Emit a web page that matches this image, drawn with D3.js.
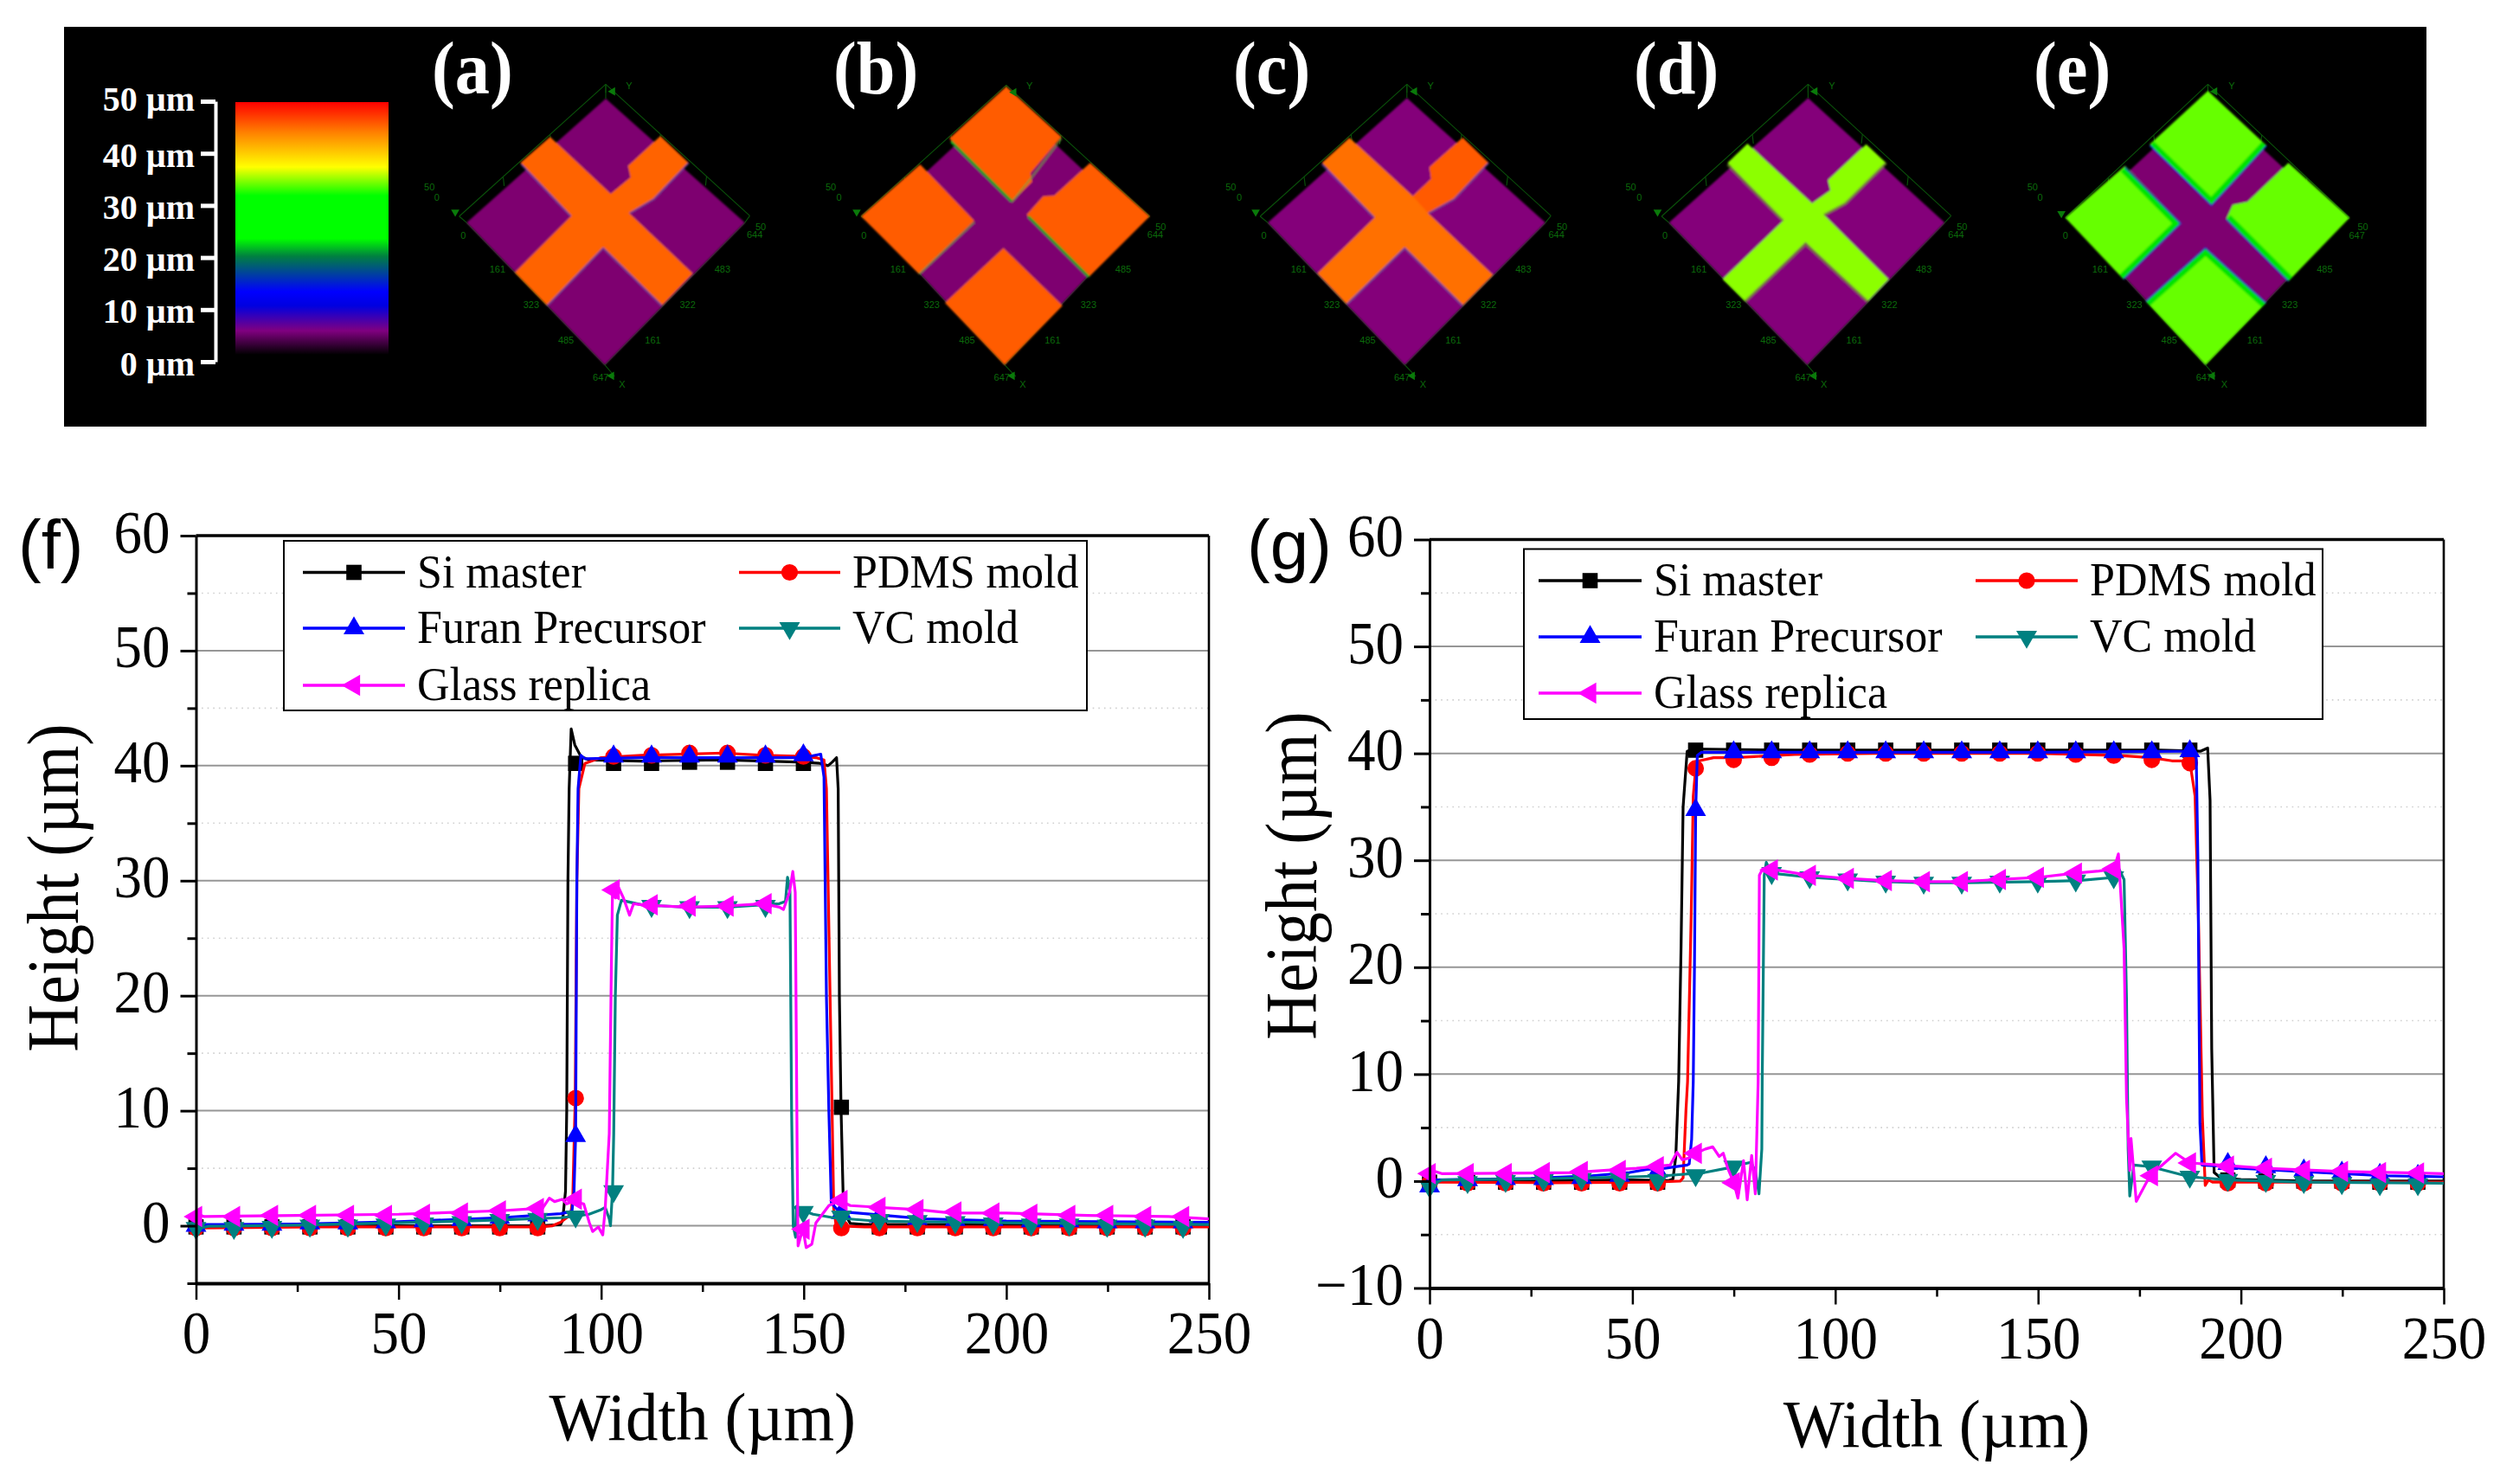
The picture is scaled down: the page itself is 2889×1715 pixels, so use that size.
<!DOCTYPE html>
<html><head><meta charset="utf-8">
<style>html,body{margin:0;padding:0;background:#fff}svg{display:block}</style>
<script src="https://cdn.jsdelivr.net/npm/d3@7"></script>
</head><body><div id="c"></div>
<script>
// ---------- DATA ----------
const seriesNames = ["Si master","PDMS mold","Furan Precursor","VC mold","Glass replica"];
const panelLetters = ["(a)","(b)","(c)","(d)","(e)"];
const scaleValues = [50,40,30,20,10,0];
const xTickValues = [0,50,100,150,200,250];
const xMinorValues = [25,75,125,175,225];
const markerX = [0,9.37,18.74,28.11,37.48,46.85,56.22,65.59,74.96,84.33,93.7,103.07,112.44,121.81,131.18,140.55,149.92,159.29,168.66,178.03,187.4,196.77,206.14,215.51,224.88,234.25,243.62];

// panel (f) traces: [width, height]
const fSiLine = [[0,-0.1],[3,0],[30,0],[60,0],[85,0],[90,0.1],[90.5,0.5],[91.2,3],[91.5,10],[91.8,30],[92.1,38],[92.6,43.2],[93.5,41.8],[95,40.8],[97,40.5],[110,40.4],[130,40.5],[150,40.3],[154,40.2],[156,40],[157,40.3],[158.1,40.7],[158.5,38],[158.8,20],[159.2,10.3],[159.7,3],[160.2,1],[161.5,0.2],[165,0.1],[200,0.1],[250,0.05]];
const fPdmsLine = [[0,-0.2],[30,-0.1],[60,-0.1],[85,-0.1],[88,0],[90,0.3],[91.5,0.7],[92.5,1],[93,2.5],[93.6,11.1],[94,30],[94.5,38],[96,40.2],[100,40.7],[110,40.9],[120,41],[130,41.1],[140,40.9],[150,40.8],[153,40.7],[155,40.5],[155.6,38],[156.5,20],[157,10],[157.4,1.5],[158,0],[165,-0.1],[200,-0.1],[250,-0.1]];
const fFuranLine = [[0,-0.4],[1,0.1],[25,0.15],[50,0.35],[75,0.7],[90,1.05],[92.8,1.25],[93.3,3],[93.7,7.8],[94,30],[94.3,38],[95,40.9],[96,40.6],[110,40.7],[130,40.7],[150,40.7],[154.2,41],[155,39],[155.6,20],[156.2,10],[156.8,2],[158,1.5],[160,1.2],[170,0.9],[180,0.6],[200,0.4],[250,0.3]];
const fVcLine = [[0,-0.3],[3,-0.05],[25,0.05],[50,0.25],[75,0.5],[90,0.7],[93,0.8],[97,1.0],[100,1.4],[101,1.6],[102,0.6],[102.3,0],[102.8,3],[103.1,8],[103.5,20],[104,27],[105,28.3],[110,27.9],[121,27.7],[131,27.7],[140,27.9],[144,28],[145.5,28.2],[146,30.3],[146.6,29],[147,10],[147.4,0],[148,-1],[148.2,1.7],[150,1.3],[152.3,1.0],[157.3,0.7],[168,0.4],[200,0.25],[250,0.1]];
const fGlassLine = [[0,0.4],[0.5,1],[2,0.8],[25,0.9],[50,1.0],[75,1.3],[84,1.5],[85.5,1.5],[87.2,2.4],[88.5,2.1],[90.4,2.3],[91.5,1.9],[93,2.1],[95.7,1.9],[97.1,0.25],[97.9,-0.5],[99.3,-0.1],[100.4,-0.8],[101,1.5],[102,8],[102.5,22],[102.8,29.2],[103.5,28.5],[104.3,29.4],[105.5,28.5],[107,27],[108,28],[110,27.9],[121,27.7],[131,27.8],[140,28],[144,27.7],[145,27.5],[146.5,29],[147.3,30.8],[147.9,29],[148.2,15],[148.4,5],[148.6,-1.75],[149.8,-0.25],[150.6,-1.9],[152,-1.6],[153,0.25],[156.2,1.75],[158.8,2.2],[161.5,1.75],[168.6,1.6],[178,1.4],[186.5,1.1],[200,1.1],[220,0.9],[240,0.8],[250,0.6]];
const fSiMarks = [-0.1,-0.1,-0.1,-0.1,-0.1,-0.1,-0.1,-0.1,-0.1,-0.1,40.2,40.2,40.2,40.3,40.3,40.2,40.2,10.3,-0.1,-0.1,-0.1,-0.1,-0.1,-0.1,-0.1,-0.1,-0.1];
const fPdmsMarks = [-0.2,-0.2,-0.2,-0.2,-0.2,-0.2,-0.2,-0.2,-0.2,-0.2,11.1,40.8,40.9,41.1,41.1,40.9,40.8,-0.2,-0.2,-0.2,-0.2,-0.2,-0.2,-0.2,-0.2,-0.2,-0.2];
const fFuranMarks = [0,0.1,0.1,0.2,0.2,0.3,0.4,0.5,0.7,0.9,7.8,40.8,40.8,40.8,40.8,40.8,40.9,1.1,0.8,0.6,0.5,0.5,0.4,0.4,0.3,0.3,0.3];
const fVcMarks = [-0.2,-0.2,-0.1,0,0,0.1,0.2,0.3,0.5,0.6,0.8,3.0,27.8,27.7,27.7,27.8,1.2,0.8,0.5,0.4,0.3,0.2,0.1,0.1,0,0,-0.1];
const fGlassMarks = [0.8,0.8,0.9,0.9,0.9,0.9,1.0,1.1,1.3,1.5,2.3,29.2,27.9,27.8,27.8,28.0,-0.3,2.2,1.6,1.4,1.2,1.1,1.0,0.9,0.9,0.8,0.8];

// panel (g) traces: [width, height]
const gSiLine = [[0,-0.1],[3,0],[30,0.05],[50,0.1],[59,0.05],[60,0.2],[60.7,2.3],[61.4,9.3],[62,22],[62.5,35],[63.5,40.2],[65,40.4],[90,40.3],[120,40.3],[150,40.3],[180,40.3],[190,40.2],[191.8,40.5],[192.4,35.6],[192.8,12.4],[193.4,0.8],[195,0.3],[200,0.15],[215,0],[250,0]];
const gPdmsLine = [[0,-0.1],[30,-0.15],[55,-0.1],[61.8,0],[62.5,0.3],[63.2,6.6],[63.6,9.3],[64.5,25],[65,36],[65.6,38.6],[66.5,39.3],[70,39.6],[75,39.6],[80,39.7],[90,39.9],[110,40],[150,40],[170,39.8],[178,39.6],[183,39.3],[186,39.3],[187.5,39],[188.7,36],[189.5,25],[190.5,6],[191.2,-0.4],[192,0.1],[193,-0.1],[250,-0.1]];
const gFuranLine = [[0,-0.5],[1,0.1],[25,0.25],[40,0.5],[49.3,0.8],[53.6,1.1],[58,1.2],[63.5,1.5],[64,1.6],[64.6,3.9],[65,9.3],[65.3,20],[65.6,34.7],[66,39.8],[67,40.1],[100,40.1],[150,40.1],[186,40.2],[188,40.3],[189,39.5],[189.4,30],[189.9,5.4],[190.4,1.5],[195,1.4],[200,1.2],[210,1.0],[220,0.8],[235,0.5],[250,0.4]];
const gVcLine = [[0,-0.5],[3,0.1],[25,0.2],[50,0.4],[58,0.5],[67.8,0.8],[73.2,1.2],[75,1.4],[79.2,1.75],[80.3,0.95],[81.2,-1.2],[81.9,3],[82,9.3],[82.5,28.6],[83,29.8],[84.3,28.8],[94,28.4],[103,28.2],[112,28],[122,27.9],[131,27.9],[150,28],[160,28.1],[168.7,28.4],[169.8,29.3],[171.2,28.2],[171.8,17],[172.2,3],[172.6,-1.4],[173.6,1.5],[177.7,1.35],[187.4,0.4],[197,0.1],[215,-0.1],[250,-0.2]];
const gGlassLine = [[0,-0.1],[0.5,1],[3,0.7],[25,0.75],[35,0.8],[51,1.2],[59.3,1.5],[61,2.7],[62.3,2],[63.9,2.15],[65.6,2.6],[68,3],[69.8,3.2],[71.4,2.3],[72.4,2.6],[73.5,1.2],[75,-0.15],[76,-1.6],[77.4,1.9],[78.3,-1.75],[79.4,2.4],[80.3,-1.2],[81,9.3],[81.3,28.6],[82.1,29.2],[83.5,28.9],[85.5,29.1],[93.7,28.6],[103,28.3],[112,28.1],[122,28],[131,28],[140,28.2],[150,28.4],[159,28.8],[165,29],[168.7,29.2],[169.8,30.6],[171.2,21.7],[171.8,7.7],[172.6,1],[172.9,4],[174.2,-1.9],[177.6,0.5],[183.9,2.6],[187.4,1.7],[194.7,1.5],[206,1.2],[225,0.9],[250,0.7]];
const gSiMarks = [-0.1,-0.1,-0.1,-0.1,-0.1,-0.1,-0.1,40.3,40.3,40.3,40.3,40.3,40.3,40.3,40.3,40.3,40.3,40.3,40.3,40.3,40.3,0.1,0,0,0,-0.1,-0.1];
const gPdmsMarks = [-0.2,-0.2,-0.2,-0.2,-0.2,-0.2,-0.2,38.6,39.4,39.6,39.9,40,40,40,40,40,40,39.9,39.8,39.4,39.1,-0.2,-0.2,-0.2,-0.2,-0.2,-0.2];
const gFuranMarks = [-0.5,0.1,0.2,0.2,0.3,0.5,0.9,34.7,40.1,40.1,40.1,40.1,40.1,40.1,40.1,40.1,40.1,40.1,40.1,40.1,40.2,1.6,1.3,1.0,0.8,0.6,0.5];
const gVcMarks = [-0.5,-0.1,0,0.1,0.2,0.2,0.1,0.55,1.35,28.8,28.4,28.2,28,27.9,27.9,28,28,28.1,28.4,1.35,0.4,0.1,0,-0.1,-0.2,-0.3,-0.3];
const gGlassMarks = [0.7,0.7,0.7,0.8,0.9,1.0,1.35,2.6,-0.15,29.1,28.6,28.3,28.1,28,28,28.2,28.4,28.8,29.2,0.5,1.7,1.4,1.2,1.0,0.9,0.8,0.75];

// ---------- SURFACE PANEL SHAPES (crop coordinates) ----------
const cropA = {ox:60,  w:900};
const cropM = {ox:960, w:1000};
const cropE = {ox:1900,w:900};
const shapes = [
 {crop:cropA, letterX:499, fill:"#ff6400", dia:[[1115,282],[835,712],[1113,1205],[1395,712]], frame:[[1115,232],[820,690],[1405,688]],
  polys:[[[1003,415],[943,505],[1045,690],[932,885],[997,1000],[1110,800],[1228,1000],[1290,888],[1163,680],[1212,630],[1282,505],[1225,412],[1160,515],[1165,555],[1125,612]]],
  edges:[[[945,510],[1045,690]],[[997,1000],[1110,800],[1228,1000]],[[1163,680],[1212,630],[1282,505]]], edge:"#5a40b0", ew:2,
  labels:[["50",760,587],["0",775,623],["0",828,755],["161",897,872],["323",965,995],["485",1035,1120],["647",1105,1247],["X",1148,1273],["Y",1162,236],["322",1280,995],["161",1210,1120],["483",1350,872],["644",1415,752],["50",1427,725]]},
 {crop:cropM, letterX:963, fill:"#ff5c00", dia:[[318,280],[75,710],[315,1205],[558,710]], frame:[[318,235],[55,690],[578,690]],
  polys:[[[318,240],[418,415],[362,540],[365,570],[328,640],[215,420]],[[162,510],[260,705],[160,890],[55,690]],[[470,505],[578,690],[468,900],[355,685],[385,620],[405,618]],[[313,800],[420,1000],[315,1205],[207,990]]],
  edges:[[[160,890],[260,710]],[[328,640],[362,560],[418,420]]], edge:"#70a040", ew:2, edges2:[[[218,430],[328,638]],[[358,690],[468,900]]],
  labels:[["50",0,587],["0",15,623],["0",60,755],["161",122,872],["323",183,995],["485",247,1120],["647",310,1247],["X",348,1273],["Y",360,236],["323",467,995],["161",402,1120],["485",530,872],["644",588,752],["50",598,725]]},
 {crop:cropM, letterX:1425, fill:"#ff7000", dia:[[1044,280],[792,712],[1040,1205],[1295,712]], frame:[[1044,232],[778,690],[1305,688]],
  polys:[[[940,418],[890,505],[985,695],[882,888],[935,995],[1040,800],[1145,1000],[1200,893],[1083,680],[1130,630],[1192,505],[1145,418],[1085,520],[1088,560],[1055,620]]],
  accent:[[1083,680],[1130,630],[1192,505],[1145,418],[1085,520],[1088,560],[1055,620]], accentFill:"#ff5a00",
  edges:[[[890,510],[985,695]],[[935,995],[1040,800],[1145,1000]],[[1083,680],[1130,630],[1192,505]]], edge:"#5a40b0", ew:2,
  labels:[["50",725,587],["0",740,623],["0",785,755],["161",848,872],["323",908,995],["485",973,1120],["647",1035,1247],["X",1073,1273],["Y",1087,236],["322",1192,995],["161",1128,1120],["483",1255,872],["644",1315,752],["50",1325,725]]},
 {crop:cropE, letterX:1888, fill:"#8cff00", dia:[[330,280],[50,712],[328,1205],[605,712]], frame:[[330,232],[35,690],[618,688]],
  polys:[[[208,438],[168,505],[280,705],[158,908],[203,985],[325,780],[450,985],[492,908],[362,685],[405,645],[487,505],[447,440],[370,565],[375,600],[338,645]]],
  edges:[[[168,510],[280,705]],[[203,985],[325,785],[450,985]],[[362,685],[405,645],[487,505]]], edge:"#7a8a30", ew:3,
  labels:[["50",-27,587],["0",-10,623],["0",42,755],["161",110,872],["323",180,995],["485",250,1120],["647",320,1247],["X",362,1273],["Y",378,236],["322",494,995],["161",423,1120],["483",563,872],["644",628,752],["50",640,725]]},
 {crop:cropE, letterX:2350, fill:"#66ff00", glow:"#00e400", dia:[[1135,280],[865,710],[1130,1205],[1405,710]], frame:[[1135,232],[848,695],[1420,695]],
  polys:[[[1135,255],[1253,445],[1170,600],[1142,650],[1018,440]],[[968,515],[1080,715],[965,908],[848,695]],[[1297,505],[1420,695],[1297,915],[1172,700],[1185,650],[1215,640]],[[1130,800],[1252,990],[1130,1205],[1010,985]]],
  edges:[[[1018,445],[1142,652],[1253,445]],[[968,520],[1080,715],[965,908]],[[1172,700],[1297,915]],[[1010,985],[1130,800],[1252,990]]], edge:"#2020d8", ew:2,
  labels:[["50",782,587],["0",797,623],["0",848,755],["161",918,872],["323",987,995],["485",1057,1120],["647",1127,1247],["X",1168,1273],["Y",1183,236],["323",1300,995],["161",1230,1120],["485",1370,872],["647",1435,755],["50",1447,725]]}
];
const rainbowStops = [[0,"#ff0000"],[0.12,"#ff8000"],[0.257,"#ffff00"],[0.37,"#00ff00"],[0.54,"#00ff00"],[0.61,"#008040"],[0.75,"#0000ff"],[0.806,"#0000e0"],[0.905,"#800080"],[1,"#000000"]];

// ---------- DRAW ----------
const W=2889,H=1715;
const SERIF='"Liberation Serif","Times New Roman",serif', SANS='"Liberation Sans",Arial,sans-serif';
const svg=d3.select("#c").append("svg").attr("width",W).attr("height",H).attr("viewBox",`0 0 ${W} ${H}`);
svg.append("rect").attr("width",W).attr("height",H).attr("fill","#fff");
const defs=svg.append("defs");
const lg=defs.append("linearGradient").attr("id","rainbow").attr("x1",0).attr("x2",0).attr("y1",0).attr("y2",1);
rainbowStops.forEach(s=>lg.append("stop").attr("offset",s[0]).attr("stop-color",s[1]));
defs.append("filter").attr("id","soft").append("feGaussianBlur").attr("stdDeviation",0.8);

// black header panel
svg.append("rect").attr("x",74).attr("y",31).attr("width",2730).attr("height",462).attr("fill","#000");

// colour scale
const scaleY=d3.scaleLinear().domain([0,50]).range([418,117]);
svg.append("rect").attr("x",272).attr("y",118).attr("width",177).attr("height",292).attr("fill","url(#rainbow)");
const scaleG=svg.append("g").attr("transform","translate(249,0)")
  .call(d3.axisLeft(scaleY).tickValues(scaleValues).tickSize(17).tickSizeOuter(0).tickFormat(d=>d+" µm"));
scaleG.select(".domain").attr("stroke","#fff").attr("stroke-width",4);
scaleG.selectAll("line").attr("stroke","#fff").attr("stroke-width",5);
scaleG.selectAll("text").attr("fill","#fff").attr("font-family",SERIF).attr("font-weight","bold").attr("font-size",40)
  .attr("text-anchor","end").attr("x",-24).attr("dy",null).attr("y",d=>d===50?10:15);

// surface panels
shapes.forEach((p,i)=>{
  const sx=d3.scaleLinear().domain([0,1568]).range([p.crop.ox,p.crop.ox+p.crop.w]);
  const sy=d3.scaleLinear().domain([0,1440]).range([20,500]);
  const pt=a=>[sx(a[0]),sy(a[1])];
  const line=d3.line().x(d=>sx(d[0])).y(d=>sy(d[1]));
  const g=svg.append("g");
  const [dt,dl,db,dr]=p.dia, [ft,fl,fr]=p.frame;
  const wire=g.append("g").attr("fill","none").attr("stroke","#0a520a").attr("stroke-width",1.1);
  [[ft,fl],[ft,fr],[fl,dl],[fr,dr],[ft,dt],[dl,db],[dr,db],[db,[db[0]+20,db[1]+40]],[ft,[ft[0],ft[1]+30]]].forEach(l=>wire.append("path").attr("d",line(l)));
  [0.3,0.62].forEach(t=>{
    const a=[fl[0]+(ft[0]-fl[0])*t,fl[1]+(ft[1]-fl[1])*t], b=[fr[0]+(ft[0]-fr[0])*t,fr[1]+(ft[1]-fr[1])*t];
    wire.append("path").attr("d",line([a,[a[0]+2,a[1]+32]]));
    wire.append("path").attr("d",line([b,[b[0]-2,b[1]+32]]));
  });
  const s=g.append("g").attr("filter","url(#soft)");
  s.append("path").attr("d",line(p.dia)+"Z").attr("fill",i===2||i===3?"#84057a":"#7e0070");
  const union=p.polys.map(q=>line(q)+"Z").join("");
  p.polys.forEach(q=>s.append("path").attr("d",line(q)+"Z").attr("fill",p.fill));
  if(p.accent) s.append("path").attr("d",line(p.accent)+"Z").attr("fill",p.accentFill);
  if(p.glow){
    defs.append("clipPath").attr("id","clip"+i).append("path").attr("d",union);
    const gl=s.append("g").attr("clip-path",`url(#clip${i})`);
    p.edges.forEach(q=>gl.append("path").attr("d",line(q)).attr("fill","none").attr("stroke",p.glow).attr("stroke-width",14));
  }
  p.edges.forEach(q=>s.append("path").attr("d",line(q)).attr("fill","none").attr("stroke",p.edge).attr("stroke-width",p.ew).attr("stroke-opacity",0.75));
  (p.edges2||[]).forEach(q=>s.append("path").attr("d",line(q)).attr("fill","none").attr("stroke","#10a020").attr("stroke-width",3));
  const arrow=(c,r)=>g.append("path").attr("d",d3.symbol(d3.symbolTriangle,40)()).attr("fill","#0a7a0a")
      .attr("transform",`translate(${pt(c)}) rotate(${r})`);
  arrow([ft[0]+14,ft[1]+25],30); arrow([db[0]+14,db[1]+38],150); arrow([fl[0]-8,fl[1]-15],60);
  g.selectAll("text.small").data(p.labels).join("text").attr("class","small")
    .attr("x",d=>sx(d[1])).attr("y",d=>sy(d[2])+4).attr("text-anchor","middle")
    .attr("font-family",SANS).attr("font-size",11).attr("fill","#0b6a0b").text(d=>d[0]);
  svg.append("text").attr("font-family",SERIF).attr("font-weight","bold")
    .attr("font-size",78).attr("fill","#fff").text(panelLetters[i])
    .attr("transform",`translate(${p.letterX},108) scale(1.03,1.1)`);
});

// line charts
const styles=[{c:"#000000",s:"square"},{c:"#ff0000",s:"circle"},{c:"#0000ff",s:"up"},{c:"#008080",s:"down"},{c:"#ff00ff",s:"left"}];
function marker(sel,style){
  const gen={square:d3.symbol(d3.symbolSquare,310),circle:d3.symbol(d3.symbolCircle,290),up:d3.symbol(d3.symbolTriangle,250),down:d3.symbol(d3.symbolTriangle,250),left:d3.symbol(d3.symbolTriangle,265)}[style.s];
  const rot={up:0,down:180,left:-90}[style.s]||0;
  sel.attr("d",gen()).attr("fill",style.c);
  return rot;
}
function stretch(sel,x,y,k){sel.attr("x",0).attr("y",0).attr("dy",null).attr("transform",`translate(${x},${y}) scale(1,${k})`);}
function chart(o){
  const x=d3.scaleLinear().domain([0,250]).range(o.xr);
  const y=d3.scaleLinear().domain(o.yd).range(o.yr);
  const g=svg.append("g");
  g.append("g").selectAll("line").data(o.minor.filter(v=>v!==o.yd[0])).join("line")
    .attr("x1",o.xr[0]).attr("x2",o.xr[1]).attr("y1",d=>y(d)).attr("y2",d=>y(d))
    .attr("stroke","#d0d0d0").attr("stroke-width",1.6).attr("stroke-dasharray","1.6 5");
  g.append("g").selectAll("line").data(o.major.filter(v=>v!==o.yd[0]&&v!==o.yd[1])).join("line")
    .attr("x1",o.xr[0]).attr("x2",o.xr[1]).attr("y1",d=>y(d)).attr("y2",d=>y(d))
    .attr("stroke","#969696").attr("stroke-width",2);
  g.append("line").attr("x1",o.xr[0]).attr("x2",o.xr[1]).attr("y1",o.yr[1]).attr("y2",o.yr[1]).attr("stroke","#000").attr("stroke-width",3.6);
  g.append("line").attr("x1",o.xr[1]).attr("x2",o.xr[1]).attr("y1",o.yr[0]).attr("y2",o.yr[1]).attr("stroke","#000").attr("stroke-width",2.6);
  const line=d3.line().x(d=>x(d[0])).y(d=>y(d[1]));
  const plot=g.append("g");
  o.series.forEach((s,i)=>{
    plot.append("path").attr("d",line(s.line)).attr("fill","none").attr("stroke",styles[i].c).attr("stroke-width",3.2).attr("stroke-linejoin","round");
    plot.append("g").selectAll("path").data(s.marks).join("path").each(function(d,k){
      const r=marker(d3.select(this),styles[i]);
      d3.select(this).attr("transform",`translate(${x(markerX[k])},${y(d)}) rotate(${r})`);
    });
  });
  const axL=g.append("g").attr("transform",`translate(${o.xr[0]},0)`)
    .call(d3.axisLeft(y).tickValues(o.major).tickSize(18).tickSizeOuter(0));
  axL.select(".domain").attr("stroke","#000").attr("stroke-width",3);
  axL.selectAll("line").attr("stroke","#000").attr("stroke-width",3);
  axL.selectAll(".tick text").attr("text-anchor","end").attr("font-family",SERIF).attr("font-size",65).attr("fill","#000")
     .each(function(){stretch(d3.select(this),-30,19,1.06);});
  const axLm=g.append("g").attr("transform",`translate(${o.xr[0]},0)`)
    .call(d3.axisLeft(y).tickValues(o.minor).tickSize(10).tickSizeOuter(0).tickFormat(""));
  axLm.select(".domain").remove(); axLm.selectAll("line").attr("stroke","#000").attr("stroke-width",3);
  const axB=g.append("g").attr("transform",`translate(0,${o.yr[0]})`)
    .call(d3.axisBottom(x).tickValues(xTickValues).tickSize(19).tickSizeOuter(0));
  axB.select(".domain").attr("stroke","#000").attr("stroke-width",4);
  axB.selectAll("line").attr("stroke","#000").attr("stroke-width",2.5);
  axB.selectAll(".tick text").attr("font-family",SERIF).attr("font-size",65).attr("fill","#000")
     .each(function(){stretch(d3.select(this),0,81,1.06);});
  const axBm=g.append("g").attr("transform",`translate(0,${o.yr[0]})`)
    .call(d3.axisBottom(x).tickValues(xMinorValues).tickSize(10).tickSizeOuter(0).tickFormat(""));
  axBm.select(".domain").remove(); axBm.selectAll("line").attr("stroke","#000").attr("stroke-width",2.5);
  g.append("text").attr("text-anchor","middle").attr("font-family",SERIF).attr("font-size",75).attr("fill","#000").text("Width (µm)")
    .attr("transform",`translate(${(o.xr[0]+o.xr[1])/2},${o.xTitleY}) scale(1,1.04)`);
  g.append("text").attr("text-anchor","middle").attr("font-family",SERIF).attr("font-size",76).attr("fill","#000").text("Height (µm)")
    .attr("transform",`translate(${o.yTitle[0]},${o.yTitle[1]}) rotate(-90) scale(1,1.1)`);
  g.append("text").attr("x",o.tag[0]).attr("y",o.tag[1]).attr("font-family",SANS).attr("font-size",80).attr("fill","#000").text(o.tagText);
  const lgd=g.append("g");
  lgd.append("rect").attr("x",o.lg.x).attr("y",o.lg.y).attr("width",o.lg.w).attr("height",o.lg.h).attr("fill","#fff").attr("stroke","#000").attr("stroke-width",2);
  const slots=[[0,0],[1,0],[0,1],[1,1],[0,2]];
  seriesNames.forEach((n,i)=>{
    const [c,r]=slots[i], ly=o.lg.rows[r], cl=o.lg.cols[c];
    lgd.append("line").attr("x1",cl[0]).attr("x2",cl[1]).attr("y1",ly).attr("y2",ly).attr("stroke",styles[i].c).attr("stroke-width",3.4);
    const m=lgd.append("path"); const rr=marker(m,styles[i]);
    m.attr("transform",`translate(${(cl[0]+cl[1])/2},${ly}) rotate(${rr})`);
    lgd.append("text").attr("font-family",SERIF).attr("font-size",52).attr("fill","#000").text(n)
      .attr("transform",`translate(${cl[2]},${ly+17}) scale(1,1.06)`);
  });
}
chart({xr:[226.5,1397],yd:[-5,60],yr:[1483,619],major:[0,10,20,30,40,50,60],minor:[-5,5,15,25,35,45,55],
  series:[{line:fSiLine,marks:fSiMarks},{line:fPdmsLine,marks:fPdmsMarks},{line:fFuranLine,marks:fFuranMarks},{line:fVcLine,marks:fVcMarks},{line:fGlassLine,marks:fGlassMarks}],
  xTitleY:1664,yTitle:[90,1026],tag:[21,657],tagText:"(f)",
  lg:{x:328,y:625,w:928,h:196,rows:[661.5,726,792],cols:[[350,468,482],[854,971,985]]}});
chart({xr:[1652,2824],yd:[-10,60],yr:[1488.5,623.5],major:[-10,0,10,20,30,40,50,60],minor:[-5,5,15,25,35,45,55],
  series:[{line:gSiLine,marks:gSiMarks},{line:gPdmsLine,marks:gPdmsMarks},{line:gFuranLine,marks:gFuranMarks},{line:gVcLine,marks:gVcMarks},{line:gGlassLine,marks:gGlassMarks}],
  xTitleY:1672,yTitle:[1521,1012],tag:[1441,657],tagText:"(g)",
  lg:{x:1761,y:634.5,w:923,h:196.5,rows:[671,736,801],cols:[[1778,1897,1911],[2283,2401,2415]]}});
</script></body></html>
